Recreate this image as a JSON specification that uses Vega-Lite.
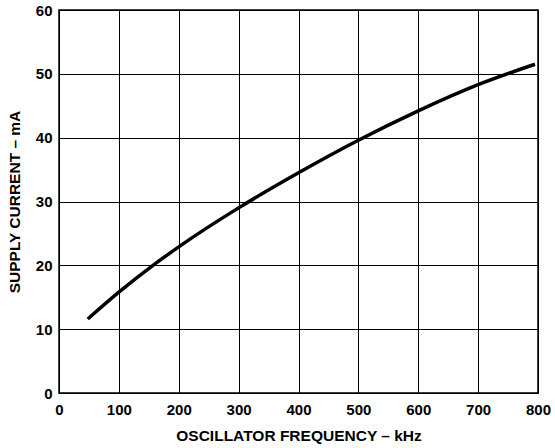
{
  "$schema": "https://vega.github.io/schema/vega-lite/v6.json",
  "width": 479,
  "height": 383,
  "autosize": {"type": "none"},
  "padding": {"left": 59, "top": 10, "right": 17, "bottom": 55},
  "background": "white",
  "config": {
    "view": {"stroke": "black", "strokeWidth": 1.5},
    "font": "Liberation Sans",
    "axis": {
      "grid": true,
      "gridColor": "black",
      "gridWidth": 1,
      "gridOpacity": 1,
      "domain": false,
      "ticks": false,
      "labelFont": "Liberation Sans",
      "labelFontWeight": "bold",
      "labelFontSize": 15,
      "labelColor": "black",
      "titleFont": "Liberation Sans",
      "titleFontWeight": "bold",
      "titleFontSize": 15.5,
      "titleColor": "black"
    }
  },
  "data": {
    "values": [
      {"f": 48, "i": 11.6},
      {"f": 100, "i": 15.8},
      {"f": 157, "i": 20.0},
      {"f": 200, "i": 22.9},
      {"f": 300, "i": 29.0},
      {"f": 400, "i": 34.5},
      {"f": 500, "i": 39.6},
      {"f": 600, "i": 44.2},
      {"f": 700, "i": 48.3},
      {"f": 795, "i": 51.5}
    ]
  },
  "mark": {"type": "line", "color": "black", "strokeWidth": 3.5, "interpolate": "monotone"},
  "encoding": {
    "x": {
      "field": "f",
      "type": "quantitative",
      "scale": {"domain": [0, 800], "nice": false},
      "axis": {"values": [0, 100, 200, 300, 400, 500, 600, 700, 800], "labelPadding": 9, "titlePadding": 11, "labelFlush": false},
      "title": "OSCILLATOR FREQUENCY – kHz"
    },
    "y": {
      "field": "i",
      "type": "quantitative",
      "scale": {"domain": [0, 60], "nice": false},
      "axis": {"values": [0, 10, 20, 30, 40, 50, 60], "labelPadding": 7, "titlePadding": 13, "labelFlush": false},
      "title": "SUPPLY CURRENT – mA"
    }
  }
}
